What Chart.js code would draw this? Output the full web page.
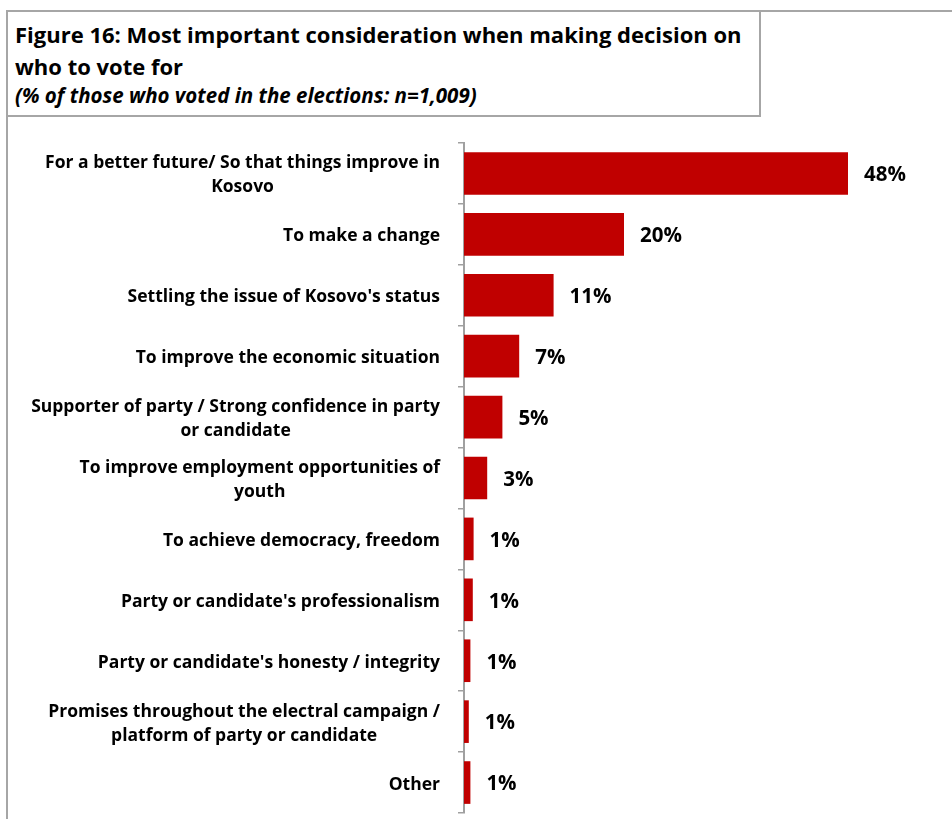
<!DOCTYPE html>
<html>
<head>
<meta charset="utf-8">
<script src="https://cdn.jsdelivr.net/npm/chart.js@4.4.1/dist/chart.umd.min.js"></script>
<style>
  html, body { margin: 0; padding: 0; background: #fff; overflow: hidden; }
  body { width: 952px; height: 819px; position: relative; font-family: "Open Sans", sans-serif; color: #000; }
  #frame { position: absolute; left: 6px; top: 10px; width: 1000px; height: 900px; border: 2px solid #a6a6a6; }
  #title { position: absolute; left: 6px; top: 10px; width: 755px; height: 107px; box-sizing: border-box;
           border: 2px solid #a6a6a6; background: #fff; }
  .line { position: absolute; left: 15px; white-space: nowrap; font-weight: bold; line-height: 1; }
  .main { font-size: 22px; }
  .sub { font-size: 20.5px; font-style: italic; }
  #wrap { position: absolute; left: 9px; top: 120px; width: 943px; height: 699px; }
</style>
</head>
<body>
<div id="frame"></div>
<div id="title"></div>
<div class="line main" style="top: 23px">Figure 16: Most important consideration when making decision on</div>
<div class="line main" style="top: 55px">who to vote for</div>
<div class="line sub" style="top: 85px">(% of those who voted in the elections: n=1,009)</div>
<div id="wrap"><canvas id="chart"></canvas></div>
<script>
// category labels, one entry per wrapped line
const categories = [
    ["For a better future/ So that things improve in", "Kosovo"],
    ["To make a change"],
    ["Settling the issue of Kosovo's status"],
    ["To improve the economic situation"],
    ["Supporter of party / Strong confidence in party", "or candidate"],
    ["To improve employment opportunities of", "youth"],
    ["To achieve democracy, freedom"],
    ["Party or candidate's professionalism"],
    ["Party or candidate's honesty / integrity"],
    ["Promises throughout the electral campaign /", "platform of party or candidate"],
    ["Other"],
];
const shares = [48, 20, 11.2, 6.9, 4.8, 2.9, 1.2, 1.1, 0.8, 0.6, 0.8];

const barColor = "#c00000";
const axisColor = "#a0a0a0";
const labelRight = 431;
const labelLineHeight = 24;

// wrapped, block-centred category names to the left of the axis
const categoryLabels = {
    id: "categoryLabels",
    afterDraw(chart) {
        const ctx = chart.ctx;
        const yScale = chart.scales.y;
        ctx.save();
        ctx.font = "bold 17.5px 'Open Sans'";
        ctx.fillStyle = "#000";
        ctx.textAlign = "center";
        ctx.textBaseline = "middle";
        categories.forEach((lines, i) => {
            const cy = yScale.getPixelForTick(i) + 2;
            const w = Math.max(...lines.map((l) => ctx.measureText(l).width));
            const cx = labelRight - w / 2;
            lines.forEach((line, j) => {
                ctx.fillText(line, cx, cy + (j - (lines.length - 1) / 2) * labelLineHeight);
            });
        });
        ctx.restore();
    },
};

// percentage next to the end of each bar
const valueLabels = {
    id: "valueLabels",
    afterDatasetsDraw(chart) {
        const ctx = chart.ctx;
        const meta = chart.getDatasetMeta(0);
        ctx.save();
        ctx.font = "bold 20.5px 'Open Sans'";
        ctx.fillStyle = "#000";
        ctx.textAlign = "left";
        ctx.textBaseline = "middle";
        meta.data.forEach((bar, i) => {
            ctx.fillText(Math.round(shares[i]) + "%", bar.x + 16, bar.y + 2);
        });
        ctx.restore();
    },
};

new Chart(document.getElementById("chart"), {
    type: "bar",
    data: {
        labels: categories.map((l) => l.join(" ")),
        datasets: [
            {
                data: shares,
                backgroundColor: barColor,
                borderWidth: 0,
                categoryPercentage: 1,
                barPercentage: 0.7,
            },
        ],
    },
    options: {
        indexAxis: "y",
        responsive: true,
        maintainAspectRatio: false,
        animation: false,
        layout: { padding: { top: 23, bottom: 6, left: 0, right: 0 } },
        plugins: {
            legend: { display: false },
            tooltip: { enabled: false },
        },
        scales: {
            x: {
                display: false,
                min: 0,
                max: 61,
            },
            y: {
                afterFit: (scale) => {
                    scale.width = 455;
                },
                ticks: { display: false },
                grid: {
                    drawOnChartArea: false,
                    drawTicks: true,
                    tickLength: 6,
                    color: axisColor,
                    lineWidth: 1.5,
                },
                border: { display: true, color: axisColor, width: 2 },
            },
        },
    },
    plugins: [categoryLabels, valueLabels],
});
</script>
</body>
</html>
